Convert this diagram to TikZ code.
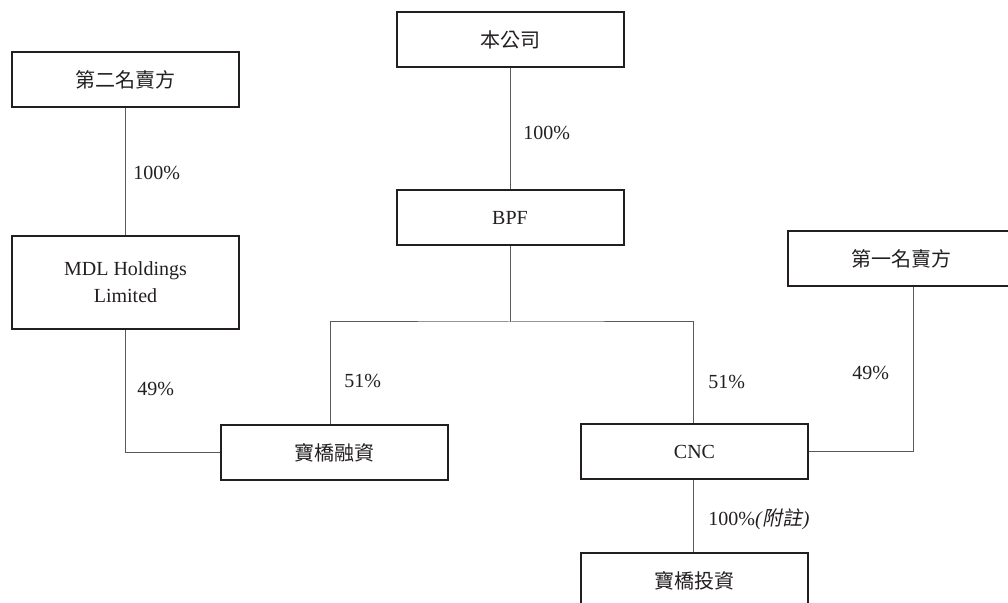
\documentclass[tikz,border=0pt]{standalone}
\usepackage{fontspec}
\setmainfont{Liberation Serif}
\newfontfamily\cjk{Noto Sans CJK TC}
\newfontfamily\cjkit[FakeSlant=0.2]{Noto Sans CJK TC}
\usepackage{tikz}
\usepackage{xcolor}
\usetikzlibrary{calc}
\definecolor{ink}{HTML}{231F20}
\definecolor{wire}{HTML}{5A5A5A}
\tikzset{
  entity/.style={draw=ink, fill=white, line width=1pt, minimum width=113.5pt,
                 minimum height=27.5pt, inner sep=0pt, align=center,
                 font=\fontsize{10}{13.5}\selectfont, text=ink},
  link/.style={draw=wire, line width=0.5pt},
  share/.style={anchor=west, inner sep=0pt, font=\fontsize{10}{12}\selectfont, text=ink}
}

\begin{document}
\begin{tikzpicture}[x=0.5pt,y=-0.5pt]
        \useasboundingbox (0,0) rectangle (1008,603);
        \clip (0,0) rectangle (1008,603);
        % boxes
        \node[entity] (seller2) at (125.5,79.5) {\cjk 第二名賣方};
        \node[entity,minimum height=46.5pt] (mdl) at (125.5,282.5) {MDL Holdings\\Limited};
        \node[entity] (company) at (510,39.5) {\cjk 本公司};
        \node[entity] (bpf) at (510,217.5) {BPF};
        \node[entity] (seller1) at (901.5,259) {\cjk 第一名賣方};
        \node[entity] (finance) at (334.5,452.5) {\cjk 寶橋融資};
        \node[entity] (cnc) at (694.5,451.5) {CNC};
        \node[entity] (invest) at (694.5,580.5) {\cjk 寶橋投資};
        \coordinate (split) at (510,322);
        % links
        \draw[link] (company) -- (bpf);
        \draw[link] (seller2) -- (mdl);
        \draw[link] (bpf) -- (split);
        \draw[link] ([xshift=-2pt]finance.north) |- (split) -| ([xshift=-0.75pt]cnc.north);
        \draw[link] (mdl.south) |- (finance.west);
        \draw[link] ([xshift=5.75pt]seller1.south) |- (cnc.east);
        \draw[link] ([xshift=-0.75pt]cnc.south) -- ([xshift=-0.75pt]invest.north);
        % percentages
        \node[share] (p1) at (523,133) {100\%};
        \node[share] (p2) at (133,173) {100\%};
        \node[share] (p3) at (137,389) {49\%};
        \node[share] (p4) at (344,381) {51\%};
        \node[share] (p5) at (708,382) {51\%};
        \node[share] (p6) at (852,373) {49\%};
        \node[share] (p7) at (708,519) {100\%\textit{(}{\cjkit 附註}\textit{)}};
      \end{tikzpicture}
\end{document}
